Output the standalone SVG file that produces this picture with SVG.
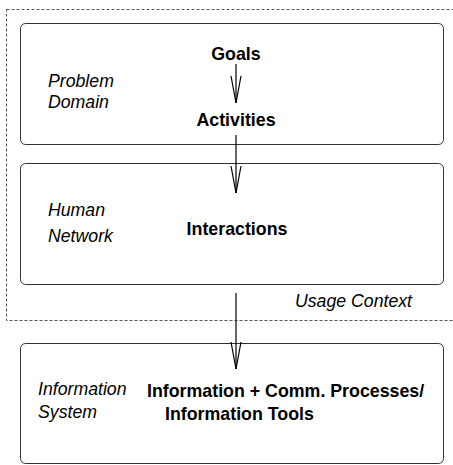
<svg xmlns="http://www.w3.org/2000/svg" width="453" height="465" viewBox="0 0 453 465">
<style>
.box{fill:#fff;stroke:#333;stroke-width:1}
.ctx{fill:none;stroke:#555;stroke-width:1;stroke-dasharray:3 2}
.b{font-family:"Liberation Sans",Arial,sans-serif;font-weight:bold;font-size:17.8px;fill:#000}
.i{font-family:"Liberation Sans",Arial,sans-serif;font-style:italic;font-size:17.7px;fill:#000}
.c{text-anchor:middle}
.conn{stroke:#000;stroke-width:1.2;fill:none;marker-end:url(#v)}
</style>
<defs>
<marker id="v" markerUnits="userSpaceOnUse" orient="auto" refX="0" refY="0" markerWidth="30" markerHeight="12" overflow="visible">
<path d="M-27,-5 L0,0 L-27,5" fill="none" stroke="#000" stroke-width="1.2"/>
</marker>
</defs>
<g id="usage-context">
<rect class="ctx" x="6.5" y="9.5" width="460" height="311"/>
<text class="i" x="295" y="307">Usage Context</text>
</g>
<g id="problem-domain">
<rect class="box" x="20.5" y="23.5" width="423" height="121" rx="5"/>
<text class="i" x="48" y="87">Problem</text>
<text class="i" x="48" y="108">Domain</text>
</g>
<g id="goals"><text class="b c" x="236" y="60">Goals</text></g>
<g id="activities"><text class="b c" x="236" y="126">Activities</text></g>
<g id="human-network">
<rect class="box" x="20.5" y="163.5" width="423" height="121" rx="5"/>
<text class="i" x="48" y="216">Human</text>
<text class="i" x="48" y="242">Network</text>
</g>
<g id="interactions"><text class="b c" x="237" y="235">Interactions</text></g>
<g id="information-system">
<rect class="box" x="20.5" y="343.5" width="423" height="120" rx="5"/>
<text class="i" x="38" y="395">Information</text>
<text class="i" x="38" y="418">System</text>
<text class="b" x="147" y="397">Information + Comm. Processes/</text>
<text class="b" x="165" y="420">Information Tools</text>
</g>
<g id="connectors">
<line class="conn" x1="236" y1="64" x2="236" y2="103"/>
<line class="conn" x1="236" y1="135" x2="236" y2="193"/>
<line class="conn" x1="236" y1="293" x2="236" y2="369"/>
</g>
</svg>
